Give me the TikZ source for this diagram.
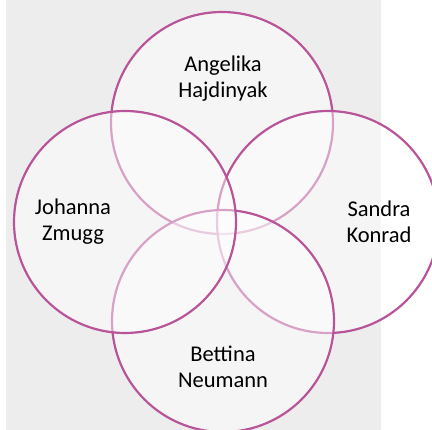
\documentclass[tikz,border=0pt]{standalone}
\usepackage{fontspec}
\setmainfont{Carlito}
\definecolor{berry}{RGB}{184,84,152}
\definecolor{panel}{RGB}{237,237,237}

\begin{document}
\begin{tikzpicture}[x=1pt, y=-1pt,
        ring/.style = {draw=berry, line width=2.2pt, circle, minimum size=222pt, inner sep=0pt, fill=white, fill opacity=0.45},
        who/.style = {align=center, inner sep=0pt, font=\fontsize{22.5}{26}\selectfont}]
    \useasboundingbox (0,0) rectangle (432,430);
    \fill[panel] (6,0) rectangle (381,430);

    \node[ring] (a) at (222,123) {};
    \node[ring] (s) at (328,222) {};
    \node[ring] (b) at (223,321) {};
    \node[ring] (j) at (125,222) {};

    \node[who] (an) at (223,79) {Angelika\\Hajdinyak};
    \node[who] (jn) at (73,222) {Johanna\\Zmugg};
    \node[who] (sn) at (379,222) {Sandra\\Konrad};
    \node[who] (bn) at (223,367) {Bettina\\Neumann};

\end{tikzpicture}
\end{document}
